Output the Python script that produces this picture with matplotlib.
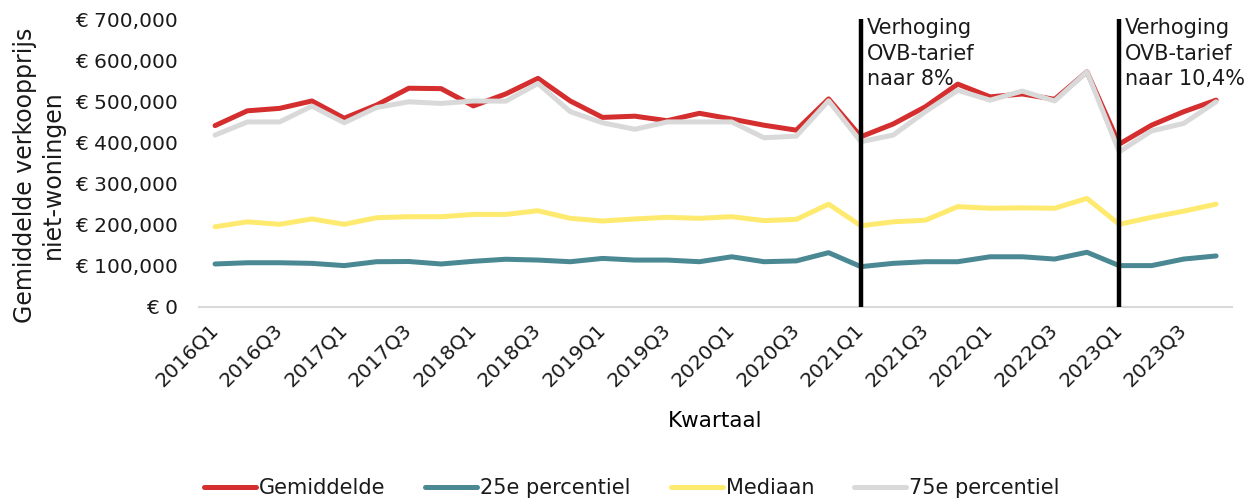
import matplotlib
matplotlib.use("Agg")
import matplotlib.pyplot as plt
from matplotlib.ticker import FuncFormatter, MultipleLocator

plt.rcParams['font.family'] = ['DejaVu Sans']
plt.rcParams['text.color'] = '#1a1a1a'

quarters = ["%dQ%d" % (y, q) for y in range(2016, 2024) for q in range(1, 5)]

gemiddelde = [441000, 477000, 483000, 501000, 459000, 491000, 532000, 531000,
              489000, 518000, 556000, 501000, 461000, 464000, 453000, 471000,
              457000, 442000, 430000, 506000, 414000, 445000, 487000, 542000,
              511000, 518000, 505000, 572000, 396000, 442000, 475000, 503000]
p25 = [104500, 107500, 107500, 106000, 100500, 110000, 110500, 104500,
       111000, 116000, 114000, 110000, 118000, 114000, 114000, 110000,
       122000, 110000, 112000, 132000, 98000, 106000, 110000, 110000,
       122000, 122000, 116500, 133000, 100500, 100500, 116500, 124000]
mediaan = [195000, 207000, 201000, 214000, 201000, 217000, 219500, 219500,
           225000, 225000, 234000, 215500, 209000, 214000, 218000, 215500,
           219500, 210000, 213000, 250000, 197500, 207000, 211000, 244000,
           240000, 241000, 240000, 264000, 201000, 218000, 233000, 250000]
p75 = [418000, 450000, 450000, 488500, 448000, 485000, 499000, 495000,
       501000, 500500, 543500, 475000, 448000, 432000, 450000, 450000,
       450000, 411500, 415500, 501500, 402000, 418000, 475000, 527000,
       503000, 525000, 501000, 572000, 377500, 428000, 446500, 499000]

series = [("Gemiddelde", gemiddelde, "#D42E2E"),
          ("25e percentiel", p25, "#4A8893"),
          ("Mediaan", mediaan, "#FFEA70"),
          ("75e percentiel", p75, "#D9D9D9")]

events = [("2021Q1", "Verhoging\nOVB-tarief\nnaar 8%"),
          ("2023Q1", "Verhoging\nOVB-tarief\nnaar 10,4%")]

fig = plt.figure(figsize=(12.51, 5.04), dpi=100)
ax = fig.add_axes([0.159, 0.391, 0.826, 0.571])

x = list(range(len(quarters)))
for name, vals, color in series:
    ax.plot(x, vals, color=color, lw=3.6, label=name, solid_capstyle='round')

for q, txt in events:
    i = quarters.index(q)
    ax.axvline(i, color='black', lw=3.2, zorder=5)
    ax.text(i + 0.18, 703000, txt, fontsize=15, va='top', ha='left',
            linespacing=1.36)

ax.set_xlim(-0.5, len(quarters) - 0.5)
ax.set_ylim(0, 700000)
ax.yaxis.set_major_locator(MultipleLocator(100000))
ax.yaxis.set_major_formatter(FuncFormatter(
    lambda v, p: "€ 0" if v == 0 else "€ {:,.0f}".format(v)))
ax.set_xticks(x[::2])
ax.set_xticklabels(quarters[::2], rotation=45, ha='right', va='center',
                   rotation_mode='anchor')
ax.tick_params(axis='both', length=0, labelsize=14.5, colors='#1a1a1a')
ax.tick_params(axis='y', pad=15)
ax.tick_params(axis='x', pad=14)

for s in ['top', 'right', 'left']:
    ax.spines[s].set_visible(False)
ax.spines['bottom'].set_color('#D9D9D9')
ax.spines['bottom'].set_linewidth(1.5)

ax.set_xlabel("Kwartaal", fontsize=15.5)
ax.xaxis.set_label_coords(0.5, -0.36)
fig.text(39 / 1251, 1 - 175 / 504, "Gemiddelde verkoopprijs\nniet-woningen",
         fontsize=17, rotation=90, ha='center', va='center',
         multialignment='center')

fig.legend(loc='center', bbox_to_anchor=(0.505, 0.032), ncol=4,
           frameon=False, fontsize=15, handlelength=2.5,
           handletextpad=0.15, columnspacing=1.9)

fig.savefig("out.png", dpi=100)
